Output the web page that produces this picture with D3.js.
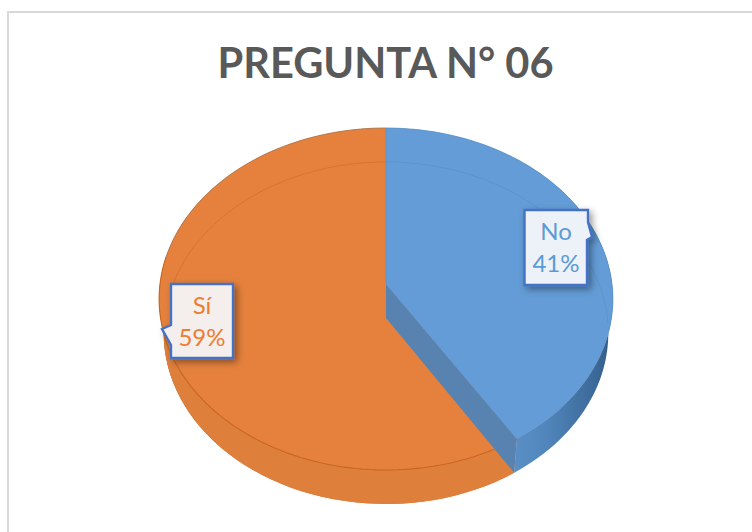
<!DOCTYPE html>
<html>
<head>
<meta charset="utf-8">
<script src="https://cdnjs.cloudflare.com/ajax/libs/d3/7.8.5/d3.min.js"></script>
<style>
  html, body { margin: 0; padding: 0; background: #fff; overflow: hidden; }
  text { font-family: Lato, "Open Sans", sans-serif; }
</style>
</head>
<body>
<script>
const categories = ["No", "Sí"];
const percents = [41, 59];
const chartTitle = "PREGUNTA N° 06";

const width = 752, height = 532;
const cx = 386, cy = 284;   // pie centre on the top face
const depth = 34;
const persp = 0.0877, radiusX = 226, radiusY = 169.7, baseShrink = 0.98;

const svg = d3.select("body").append("svg")
    .attr("width", width)
    .attr("height", height);

const defs = svg.append("defs");

function hGradient(id, stops) {
  const g = defs.append("linearGradient")
      .attr("id", id)
      .attr("gradientUnits", "userSpaceOnUse")
      .attr("x1", cx - radiusX).attr("x2", cx + radiusX)
      .attr("y1", 0).attr("y2", 0);
  stops.forEach(function(s) {
    g.append("stop").attr("offset", s[0]).attr("stop-color", s[1]);
  });
}

hGradient("sideOrange", [[0, "#8a4c1e"], [0.05, "#a9632c"], [0.14, "#c26f30"], [0.3, "#d97b39"], [1, "#df7f3c"]]);
hGradient("sideBlue", [[0, "#5e96cf"], [0.62, "#6aa2da"], [0.85, "#5287bd"], [0.97, "#3a6796"], [1, "#345c87"]]);

const shadow = defs.append("filter").attr("id", "shadow")
    .attr("x", "-30%").attr("y", "-30%").attr("width", "160%").attr("height", "160%");
shadow.append("feDropShadow")
    .attr("dx", 3).attr("dy", 3).attr("stdDeviation", 3.5)
    .attr("flood-color", "#000").attr("flood-opacity", 0.4);

// circle angle -> screen, with the near edge coming out bigger
function project(angle, level) {
  const u = Math.sin(angle), v = -Math.cos(angle);
  const d = 1 - persp * v;
  const sx = level ? baseShrink : 1;
  return [cx + sx * radiusX * u / d, cy + level * depth + radiusY * v / d];
}

function rim(a0, a1, level) {
  const n = 80;
  return d3.range(n + 1).map(function(i) {
    return project(a0 + (a1 - a0) * i / n, level);
  });
}

const line = d3.line();
const closed = function(pts) { return line(pts) + "Z"; };

const pie = d3.pie().sort(null).value(function(d) { return d; });
const arcs = pie(percents);
const no = arcs[0], si = arcs[1];

// frame, runs off the right and bottom of the picture
svg.append("rect")
    .attr("x", 8).attr("y", 12)
    .attr("width", width + 20).attr("height", height + 20)
    .attr("fill", "#fff").attr("stroke", "#d9d9d9").attr("stroke-width", 2);

svg.append("text")
    .attr("x", 385.5).attr("y", 78)
    .attr("text-anchor", "middle")
    .attr("font-size", 41.6).attr("font-weight", 700)
    .attr("fill", "#595959")
    .text(chartTitle);

// orange slice: side, base, top
const siEnd = Math.min(si.endAngle, Math.PI * 2);
const siSplit = si.startAngle + (siEnd - si.startAngle) * 0.62;
svg.append("path")
    .attr("d", closed(rim(si.startAngle, siEnd, 0).concat(rim(si.startAngle, siEnd, 1).reverse())))
    .attr("fill", "url(#sideOrange)");
svg.append("path")
    .attr("d", closed([[cx, cy + depth]].concat(rim(si.startAngle, siEnd, 1))))
    .attr("fill", "#df7f3c");
svg.append("path")
    .attr("d", closed([[cx, cy]].concat(rim(si.startAngle, siEnd, 0))))
    .attr("fill", "#e5813d");

// back edge of the orange top, thin and greyish
svg.append("path")
    .attr("d", line(rim(siSplit, siEnd, 0)))
    .attr("fill", "none").attr("stroke", "#a8734e").attr("stroke-width", 0.8);
// front edge of the orange top, and the faint back of the base seen through it
svg.append("path")
    .attr("d", line(rim(si.startAngle, siSplit, 0)))
    .attr("fill", "none").attr("stroke", "#c9671f").attr("stroke-width", 1.1);
svg.append("path")
    .attr("d", line(rim(siSplit, siEnd, 1)))
    .attr("fill", "none").attr("stroke", "#cf7030").attr("stroke-width", 0.8);

// blue slice: outer wall, cut wall, top
svg.append("path")
    .attr("d", closed(rim(no.startAngle, no.endAngle, 0).concat(rim(no.startAngle, no.endAngle, 1).reverse())))
    .attr("fill", "url(#sideBlue)");
svg.append("path")
    .attr("d", closed([[cx, cy], [cx, cy + depth], project(no.endAngle, 1), project(no.endAngle, 0)]))
    .attr("fill", "#5882af");
svg.append("path")
    .attr("d", closed([[cx, cy]].concat(rim(no.startAngle, no.endAngle, 0))))
    .attr("fill", "#639cd6")
    .attr("stroke", "#5a8fc4").attr("stroke-width", 0.7);
svg.append("path")
    .attr("d", line(rim(no.startAngle, no.endAngle * 0.62, 1)))
    .attr("fill", "none").attr("stroke", "#5a91c9").attr("stroke-width", 0.8);

// callouts
const labelBoxes = [
  { outline: "M524.5,210H588V222L592,237L587,240V285H524.5Z", textX: 556, textY: 240, color: "#5b9bd5" },
  { outline: "M171,284H233V358H171V345L162,329L171,325Z", textX: 202, textY: 314, color: "#ed7d31" }
];

labelBoxes.forEach(function(box, i) {
  svg.append("path")
      .attr("d", box.outline)
      .attr("fill", i === 0 ? "#edf1f8" : "#f4efed")
      .attr("stroke", "#4472c4").attr("stroke-width", 2.4)
      .attr("filter", "url(#shadow)");
  [categories[i], percents[i] + "%"].forEach(function(t, j) {
    svg.append("text")
        .attr("x", box.textX).attr("y", box.textY + j * 32)
        .attr("text-anchor", "middle")
        .attr("font-size", 24)
        .attr("fill", box.color)
        .text(t);
  });
});
</script>
</body>
</html>
